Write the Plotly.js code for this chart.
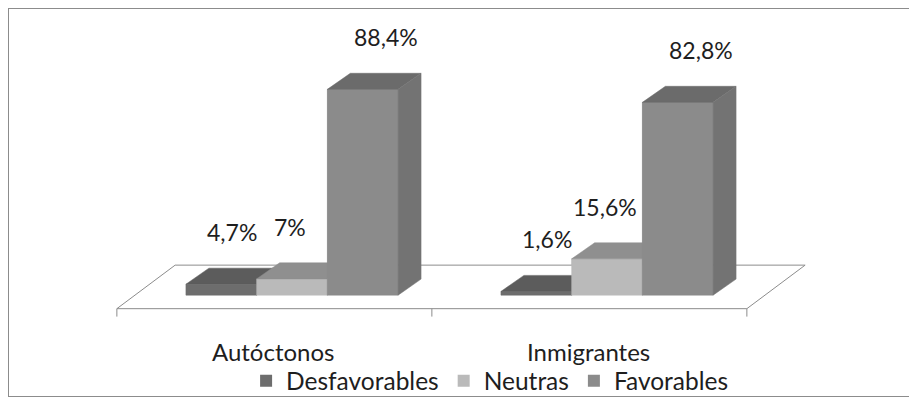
<!DOCTYPE html>
<html>
<head>
<meta charset="utf-8">
<script src="https://cdn.plot.ly/plotly-3.0.1.min.js"></script>
<style>
  html, body { margin: 0; padding: 0; background: #ffffff; }
  #chart { width: 909px; height: 404px; }
</style>
</head>
<body>
<div id="chart"></div>
<script>
// Actitudes por grupo (porcentajes)
const categories = ['Autóctonos', 'Inmigrantes'];
const seriesNames = ['Desfavorables', 'Neutras', 'Favorables'];
const desfavorables = [4.7, 1.6];
const neutras = [7, 15.6];
const favorables = [88.4, 82.8];

const seriesValues = [desfavorables, neutras, favorables];

// front / top / side shades of each series (3D columns)
const shades = [
  { front: '#6d6d6d', top: '#5c5c5c', side: '#565656' },
  { front: '#bababa', top: '#8f8f8f', side: '#9a9a9a' },
  { front: '#8b8b8b', top: '#6b6b6b', side: '#737373' }
];

// geometry of the pseudo-3D view, in axis units
const BAR_W = 0.2245;      // width of one column along the category axis
const DEPTH_X = 0.073;     // receding offset of the column depth (x)
const DEPTH_Y = 6.9;       // receding offset of the column depth (y, %)
const X_RANGE = [-0.8984, 1.9587];
const Y_RANGE = [-43.3, 122.9];
const LABEL_SHIFT = [11, -2, 23];   // horizontal nudge of value labels, px, per series
const FONT = 'Lato, "Open Sans", sans-serif';
const TEXT = '#1e1e1e';

const fmt = v => String(v).replace('.', ',') + '%';
const catPos = categories.map((_, i) => i);

const traces = [];

// floor of the plot (outlined parallelogram) and its category ticks
const floorLeft = catPos[0] - 0.556;
const floorRight = catPos[catPos.length - 1] + 0.444;
const floorFront = -5.8, floorBack = 12.9, floorShift = 0.185;
traces.push({
  type: 'scatter', mode: 'lines',
  x: [floorLeft, floorRight, floorRight + floorShift, floorLeft + floorShift, floorLeft],
  y: [floorFront, floorFront, floorBack, floorBack, floorFront],
  fill: 'toself', fillcolor: '#ffffff',
  line: { color: '#8c8c8c', width: 1 },
  hoverinfo: 'skip', showlegend: false
});
const tickXs = [floorLeft, (floorLeft + floorRight) / 2, floorRight];
const tx = [], ty = [];
tickXs.forEach(x => { tx.push(x, x, null); ty.push(floorFront, floorFront - 3.4, null); });
traces.push({
  type: 'scatter', mode: 'lines', x: tx, y: ty,
  line: { color: '#8c8c8c', width: 1 },
  hoverinfo: 'skip', showlegend: false
});

// flat columns: legend entries and front faces
seriesNames.forEach((name, s) => {
  traces.push({
    type: 'bar', name: name, x: catPos, y: seriesValues[s],
    marker: { color: shades[s].front, line: { width: 0 } },
    hoverinfo: 'skip'
  });
});

// 3D faces, painted left to right so each column hides its neighbour's side
function face(xs, ys, color) {
  traces.push({
    type: 'scatter', mode: 'lines', x: xs, y: ys,
    fill: 'toself', fillcolor: color,
    line: { color: color, width: 0.5 },
    hoverinfo: 'skip', showlegend: false
  });
}
catPos.forEach(c => {
  seriesValues.forEach((vals, s) => {
    const h = vals[c];
    const x0 = c + (s - 1.5) * BAR_W, x1 = x0 + BAR_W;
    face([x0, x1, x1, x0, x0], [0, 0, h, h, 0], shades[s].front);
    face([x0, x1, x1 + DEPTH_X, x0 + DEPTH_X, x0], [h, h, h + DEPTH_Y, h + DEPTH_Y, h], shades[s].top);
    face([x1, x1 + DEPTH_X, x1 + DEPTH_X, x1, x1], [0, DEPTH_Y, h + DEPTH_Y, h, 0], shades[s].side);
  });
});

// value labels above each column
const annotations = [];
catPos.forEach(c => {
  seriesValues.forEach((vals, s) => {
    annotations.push({
      x: c + (s - 1) * BAR_W, y: vals[c] + DEPTH_Y,
      xref: 'x', yref: 'y', xshift: LABEL_SHIFT[s], yshift: 36,
      text: fmt(vals[c]), showarrow: false,
      xanchor: 'center', yanchor: 'middle',
      font: { family: FONT, size: 23, color: TEXT }
    });
  });
});
// category names under the floor
categories.forEach((name, c) => {
  annotations.push({
    x: c, y: 0.1137, xref: 'x', yref: 'paper', xshift: -19,
    text: name, showarrow: false, xanchor: 'center', yanchor: 'middle',
    font: { family: FONT, size: 24, color: TEXT }
  });
});

const layout = {
  width: 909, height: 404,
  margin: { l: 9, r: 0, t: 9, b: 8, pad: 0 },
  paper_bgcolor: '#ffffff', plot_bgcolor: '#ffffff',
  barmode: 'group', bargap: 1 - 3 * BAR_W, bargroupgap: 0,
  xaxis: {
    range: X_RANGE, showgrid: false, zeroline: false, showticklabels: false,
    ticks: '', showline: true, mirror: true, linecolor: '#8c8c8c', linewidth: 1,
    fixedrange: true
  },
  yaxis: {
    range: Y_RANGE, showgrid: false, zeroline: false, showticklabels: false,
    ticks: '', showline: true, mirror: false, linecolor: '#8c8c8c', linewidth: 1,
    fixedrange: true
  },
  showlegend: true,
  legend: {
    orientation: 'h', x: 0.534, xanchor: 'center', y: 0.039, yanchor: 'middle',
    font: { family: FONT, size: 24.5, color: TEXT },
    bgcolor: 'rgba(0,0,0,0)', itemwidth: 30, traceorder: 'normal'
  },
  annotations: annotations,
  font: { family: FONT, color: TEXT }
};

Plotly.newPlot('chart', traces, layout, { staticPlot: true, displayModeBar: false });
</script>
</body>
</html>
